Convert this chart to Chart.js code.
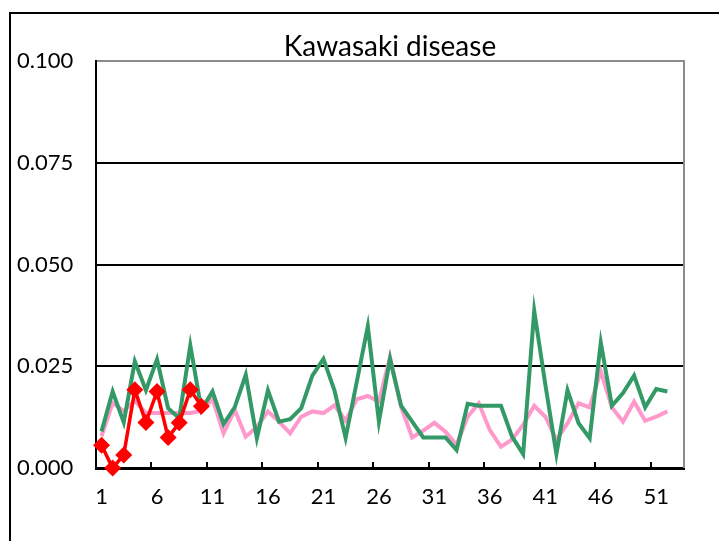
<!DOCTYPE html>
<html>
<head>
<meta charset="utf-8">
<script src="https://cdn.jsdelivr.net/npm/chart.js@4/dist/chart.umd.min.js"></script>
<style>
  html, body { margin: 0; padding: 0; background: #fff; overflow: hidden; }
  #wrap { position: relative; width: 719px; height: 541px; }
</style>
</head>
<body>
<div id="wrap"><canvas id="c" width="719" height="541"></canvas></div>
<script>
const chartTitle = 'Kawasaki disease';

const weeks = ['1','2','3','4','5','6','7','8','9','10','11','12','13','14','15','16','17','18','19','20',
  '21','22','23','24','25','26','27','28','29','30','31','32','33','34','35','36','37','38','39','40',
  '41','42','43','44','45','46','47','48','49','50','51','52','53'];

const yTicks = [0, 0.025, 0.05, 0.075, 0.1];

// pink series
const pinkSeries = [0.0078, 0.0160, 0.0140, 0.0165, 0.0135, 0.0135, 0.0135, 0.0135, 0.0135, 0.0140,
  0.0170, 0.0085, 0.0143, 0.0077, 0.0101, 0.0139, 0.0114, 0.0085, 0.0126, 0.0139,
  0.0135, 0.0154, 0.0116, 0.0169, 0.0177, 0.0163, 0.0273, 0.0150, 0.0075, 0.0092,
  0.0111, 0.0089, 0.0057, 0.0126, 0.0159, 0.0093, 0.0052, 0.0070, 0.0106, 0.0153,
  0.0126, 0.0069, 0.0110, 0.0159, 0.0149, 0.0238, 0.0149, 0.0114, 0.0163, 0.0116,
  0.0126, 0.0139];

// green series
const greenSeries = [0.0090, 0.0188, 0.0112, 0.0262, 0.0191, 0.0267, 0.0147, 0.0122, 0.0301, 0.0143,
  0.0188, 0.0108, 0.0149, 0.0229, 0.0073, 0.0191, 0.0114, 0.0120, 0.0147, 0.0227,
  0.0268, 0.0190, 0.0074, 0.0211, 0.0348, 0.0114, 0.0268, 0.0153, 0.0114, 0.0075,
  0.0075, 0.0075, 0.0044, 0.0158, 0.0153, 0.0153, 0.0153, 0.0077, 0.0034, 0.0386,
  0.0205, 0.0034, 0.0191, 0.0110, 0.0073, 0.0308, 0.0153, 0.0184, 0.0227, 0.0149,
  0.0194, 0.0188];

// red series (current year)
const redSeries = [0.0056, 0.0000, 0.0032, 0.0192, 0.0112, 0.0188, 0.0075, 0.0111, 0.0192, 0.0152];

const decorPlugin = {
  id: 'decor',
  beforeDraw(chart) {
    const ctx = chart.ctx;
    ctx.save();
    ctx.fillStyle = '#ffffff';
    ctx.fillRect(0, 0, chart.width, chart.height);
    ctx.strokeStyle = '#000000';
    ctx.lineWidth = 2;
    ctx.strokeRect(10, 13, chart.width + 20, chart.height + 20);
    ctx.restore();
  },
  afterDatasetsDraw(chart) {
    const ctx = chart.ctx;
    const a = chart.chartArea;
    const xs = chart.scales.x;
    ctx.save();
    // right plot border
    ctx.strokeStyle = '#8c8c8c';
    ctx.lineWidth = 2;
    ctx.beginPath();
    ctx.moveTo(a.right, a.top - 1);
    ctx.lineTo(a.right, a.bottom);
    ctx.stroke();
    // inner tick marks on category axis every 5 categories
    const half = (xs.getPixelForValue(1) - xs.getPixelForValue(0)) / 2;
    ctx.strokeStyle = '#000000';
    ctx.lineWidth = 2;
    for (let i = 5; i < weeks.length; i += 5) {
      const x = Math.round(xs.getPixelForValue(i) - half);
      ctx.beginPath();
      ctx.moveTo(x, a.bottom);
      ctx.lineTo(x, a.bottom - 6);
      ctx.stroke();
    }
    // title
    ctx.fillStyle = '#000000';
    ctx.font = '28px Lato';
    ctx.textAlign = 'center';
    ctx.textBaseline = 'alphabetic';
    ctx.fillText(chartTitle, (a.left + a.right) / 2, 56);
    ctx.restore();
  }
};

Chart.defaults.font.family = 'Lato';
Chart.defaults.color = '#000000';

new Chart(document.getElementById('c'), {
  type: 'line',
  data: {
    labels: weeks,
    datasets: [
      {
        label: 'current',
        data: redSeries,
        borderColor: '#ff0000',
        backgroundColor: '#ff0000',
        borderWidth: 3.5,
        pointStyle: 'rectRot',
        pointRadius: 8.5,
        pointHoverRadius: 8.5,
        pointBorderWidth: 0,
        tension: 0,
        clip: false
      },
      {
        label: 'green',
        data: greenSeries,
        borderColor: '#339966',
        backgroundColor: '#339966',
        borderWidth: 4,
        pointRadius: 0,
        tension: 0
      },
      {
        label: 'pink',
        data: pinkSeries,
        borderColor: '#ff99cc',
        backgroundColor: '#ff99cc',
        borderWidth: 4,
        pointRadius: 0,
        tension: 0
      }
    ]
  },
  options: {
    responsive: false,
    animation: false,
    devicePixelRatio: 1,
    layout: { padding: { left: 17, top: 61, right: 35, bottom: 0 } },
    plugins: {
      legend: { display: false },
      title: { display: false },
      tooltip: { enabled: false }
    },
    scales: {
      x: {
        type: 'category',
        offset: true,
        grid: { display: false, drawTicks: false },
        border: { display: true, color: '#000000', width: 3 },
        ticks: {
          autoSkip: false,
          maxRotation: 0,
          minRotation: 0,
          padding: 16,
          font: { size: 22 },
          callback: function (v, i) { return i % 5 === 0 ? weeks[i] : ''; }
        },
        afterFit: function (s) { s.height = 73; }
      },
      y: {
        min: 0,
        max: 0.1,
        afterBuildTicks: function (s) { s.ticks = yTicks.map(v => ({ value: v })); },
        grid: {
          drawTicks: false,
          lineWidth: 2,
          color: function (c) { return Math.abs(c.tick.value - 0.1) < 1e-9 ? '#8c8c8c' : '#000000'; }
        },
        border: { display: true, color: '#000000', width: 2 },
        ticks: {
          crossAlign: 'far',
          padding: 0,
          font: { size: 22 },
          callback: function (v) { return Number(v).toFixed(3); }
        },
        afterFit: function (s) { s.width = 79; }
      }
    }
  },
  plugins: [decorPlugin]
});
</script>
</body>
</html>
